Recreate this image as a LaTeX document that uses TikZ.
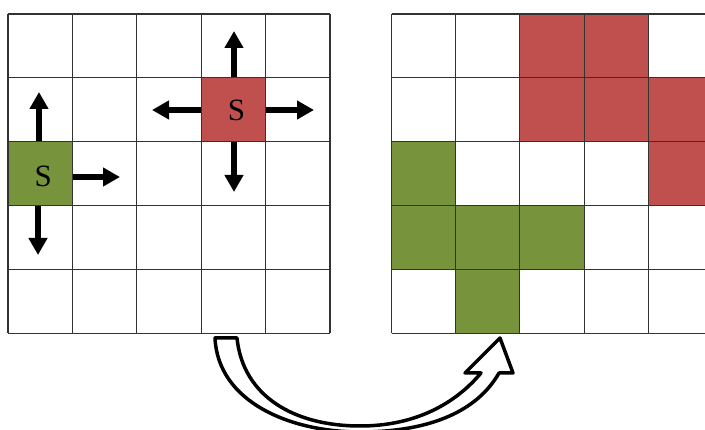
\documentclass[tikz,border=0pt]{standalone}
\usepackage{fontspec}
\setmainfont{Liberation Serif}
\usetikzlibrary{arrows.meta}
\definecolor{cellred}{HTML}{C0504D}
\definecolor{cellgreen}{HTML}{77933C}
\begin{document}
\begin{tikzpicture}[x=1pt,y=-1pt,
  gridline/.style={draw=black!80, line width=1.1pt},
  startcell/.style={rectangle, minimum width=64.4pt, minimum height=63.9pt, inner sep=0pt, draw=black!80, line width=1.1pt},
  stext/.style={inner sep=0pt, font=\fontsize{31}{31}\selectfont},
  movearrow/.style={line width=5.6pt, -{Triangle[width=18pt,length=17pt]}},
  hollow/.style={draw=black, line width=3.5pt, fill=white, line join=round}]
\useasboundingbox (0,0) rectangle (705,430);
\clip (0,0) rectangle (705,430);
% right grid fills
\foreach \c/\r in {2/0,3/0,2/1,3/1,4/1,4/2}
  \fill[cellred] (391.5+\c*64.2,14+\r*63.9) rectangle ++(64.2,63.9);
\foreach \c/\r in {0/2,0/3,1/3,2/3,1/4}
  \fill[cellgreen] (391.5+\c*64.2,14+\r*63.9) rectangle ++(64.2,63.9);
% grids
\foreach \i in {0,...,5} {
  \draw[gridline] (8+\i*64.4,14) -- (8+\i*64.4,333.5);
  \draw[gridline] (8,14+\i*63.9) -- (330,14+\i*63.9);
  \draw[gridline] (391.5+\i*64.2,14) -- (391.5+\i*64.2,333.5);
  \draw[gridline] (391.5,14+\i*63.9) -- (712.5,14+\i*63.9);
}
% start cells
\node[startcell, fill=cellgreen] (gs) at (40.2,173.75) {};
\node[startcell, fill=cellred] (rs) at (233.4,109.85) {};
\node[stext] (gsl) at ([xshift=3pt,yshift=-3pt]gs.center) {S};
\node[stext] (rsl) at ([xshift=3pt,yshift=-1pt]rs.center) {S};
% move arrows
\coordinate (gup) at (39,92);
\coordinate (gright) at (120,177);
\coordinate (gdown) at (38,255);
\coordinate (rup) at (234,31);
\coordinate (rleft) at (152,110);
\coordinate (rright) at (314,110);
\coordinate (rdown) at (234,192);
\draw[movearrow] (gs.north -| gup) -- (gup);
\draw[movearrow] (gs.east |- gright) -- (gright);
\draw[movearrow] (gs.south -| gdown) -- (gdown);
\draw[movearrow] (rs.north -| rup) -- (rup);
\draw[movearrow] (rs.west |- rleft) -- (rleft);
\draw[movearrow] (rs.east |- rright) -- (rright);
\draw[movearrow] (rs.south -| rdown) -- (rdown);
% hollow curved arrow
\draw[hollow] (215,338) .. controls (218,402) and (290,432) .. (360,432)
  .. controls (432,432) and (478,410) .. (499,373) -- (513,373) -- (500,338)
  -- (465,373) -- (481,373) .. controls (455,404) and (415,426) .. (360,426)
  .. controls (295,426) and (243,397) .. (237,338) -- cycle;
\end{tikzpicture}
\end{document}
